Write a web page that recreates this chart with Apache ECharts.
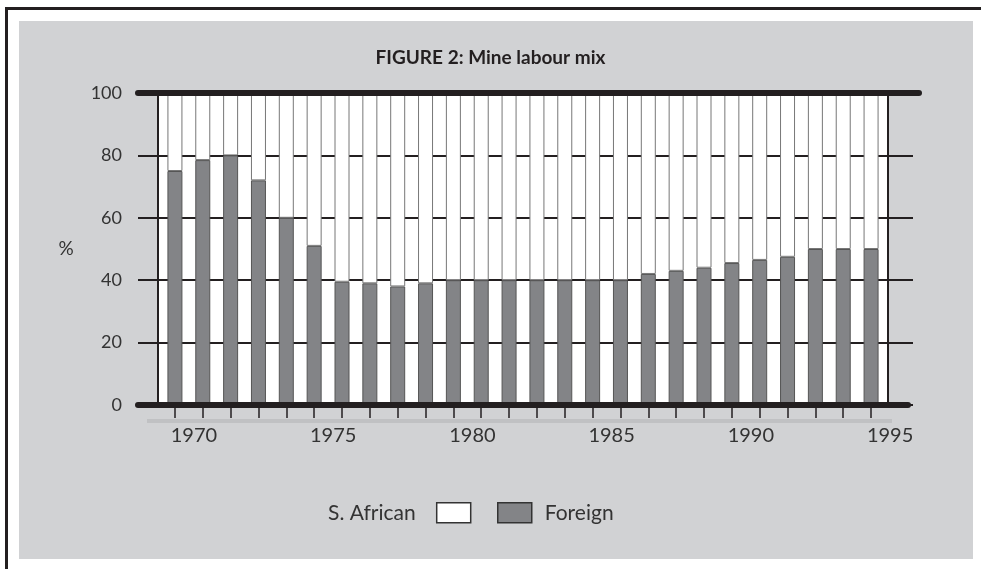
<!DOCTYPE html>
<html>
<head>
<meta charset="utf-8">
<title>Mine labour mix</title>
<script src="https://cdn.jsdelivr.net/npm/echarts@6/dist/echarts.min.js"></script>
<style>
  html, body { margin: 0; padding: 0; background: #fff; }
  .frame { position: absolute; left: 5px; top: 7px; width: 976px; height: 562px;
           border-left: 3px solid #231f20; border-top: 3px solid #231f20; }
  .panel { position: absolute; left: 19px; top: 21px; width: 954px; height: 538px; background: #d1d2d4; }
  .strip { position: absolute; left: 147px; top: 419px; width: 745px; height: 4px; background: #c0c1c3; }
  #main { position: absolute; left: 0; top: 0; width: 981px; height: 569px; }
</style>
</head>
<body>
<div class="frame"></div>
<div class="panel"></div>
<div class="strip"></div>
<div id="main"></div>
<script>
  const years = ['1970', '1971', '1972', '1973', '1974', '1975', '1976', '1977', '1978', '1979',
    '1980', '1981', '1982', '1983', '1984', '1985', '1986', '1987', '1988', '1989',
    '1990', '1991', '1992', '1993', '1994', '1995']
  // share of mine labour, %
  const foreign = [75, 78.5, 80, 72, 60, 51, 39.5, 39, 38, 39, 40, 40, 40, 40, 40, 40, 40,
    42, 43, 44, 45.5, 46.5, 47.5, 50, 50, 50]
  const sAfrican = [25, 21.5, 20, 28, 40, 49, 60.5, 61, 62, 61, 60, 60, 60, 60, 60, 60, 60,
    58, 57, 56, 54.5, 53.5, 52.5, 50, 50, 50]
  const yTicks = [0, 20, 40, 60, 80, 100]

  const ink = '#231f20'
  const font = 'Lato, "Open Sans", sans-serif'
  const myChart = echarts.init(document.getElementById('main'))

  const hiddenX = (gridIndex, position) => ({
    type: 'value', gridIndex: gridIndex, position: position, min: 0, max: 1,
    axisLabel: { show: false }, axisTick: { show: false }, splitLine: { show: false },
    axisLine: { show: false },
  })
  const hiddenY = (gridIndex) => ({
    type: 'value', gridIndex: gridIndex, min: 0, max: 100, show: false,
  })

  const option = {
    animation: false,
    backgroundColor: 'transparent',
    textStyle: { fontFamily: font },
    title: {
      text: 'FIGURE 2: Mine labour mix',
      left: 'center',
      top: 43,
      textStyle: { fontFamily: font, fontSize: 19, fontWeight: 'bold', color: ink },
    },
    legend: [
      {
        data: ['S. African'], left: 323, top: 497, align: 'right', icon: 'rect',
        itemWidth: 34, itemHeight: 20, selectedMode: false,
        itemStyle: { borderColor: '#333', borderWidth: 1.5 },
        textStyle: { fontSize: 21, color: '#333', padding: [0, 16, 0, 0] },
      },
      {
        data: ['Foreign'], left: 492, top: 497, align: 'left', icon: 'rect',
        itemWidth: 34, itemHeight: 20, selectedMode: false,
        itemStyle: { borderColor: '#333', borderWidth: 1.5 },
        textStyle: { fontSize: 21, color: '#333', padding: [0, 0, 0, 8] },
      },
    ],
    grid: [
      // white plot area with gridlines
      { left: 158, right: 93, top: 93, bottom: 164, show: true, backgroundColor: '#fff', borderWidth: 0 },
      // bars
      { left: 161, right: 96, top: 93, bottom: 164 },
      // thick 100 line
      { left: 138, right: 62, top: 93, bottom: 164 },
      // thick 0 line
      { left: 138, right: 73, top: 93, bottom: 164 },
    ],
    xAxis: [
      hiddenX(0, 'bottom'),
      {
        type: 'category', gridIndex: 1, data: years,
        axisLine: { show: false },
        axisTick: { show: true, alignWithLabel: true, interval: 0, length: 13, lineStyle: { color: ink, width: 1.5 } },
        axisLabel: {
          interval: (idx) => idx % 5 === 0,
          margin: 21, fontSize: 20, color: '#333', padding: [0, 0, 0, 38],
        },
      },
      Object.assign(hiddenX(2, 'top'), { z: 10, axisLine: { show: true, onZero: false, lineStyle: { color: ink, width: 6 } } }),
      Object.assign(hiddenX(3, 'bottom'), { z: 10, axisLine: { show: true, onZero: false, lineStyle: { color: ink, width: 6 } } }),
    ],
    yAxis: [
      {
        type: 'value', gridIndex: 0, min: 0, max: 100, interval: 20,
        name: '%', nameLocation: 'middle', nameRotate: 0, nameGap: 92,
        nameTextStyle: { fontSize: 19, color: '#333', align: 'center', verticalAlign: 'middle', padding: [0, 0, 26, 0] },
        axisLine: { show: true, lineStyle: { color: ink, width: 2 } },
        axisTick: { show: true, length: 20, lineStyle: { color: ink, width: 2 } },
        axisLabel: {
          margin: 36, fontSize: 18, color: '#333', padding: [8, 0, 0, 0],
          customValues: yTicks,
        },
        splitLine: { show: true, lineStyle: { color: ink, width: 2 } },
      },
      {
        type: 'value', gridIndex: 0, position: 'right', min: 0, max: 100, interval: 20,
        axisLine: { show: true, lineStyle: { color: ink, width: 2 } },
        axisTick: { show: true, length: 25, lineStyle: { color: ink, width: 2 } },
        axisLabel: { show: false },
        splitLine: { show: false },
      },
      hiddenY(1),
      hiddenY(2),
      hiddenY(3),
    ],
    series: [
      {
        name: 'Foreign', type: 'bar', stack: 'mix', xAxisIndex: 1, yAxisIndex: 2,
        barWidth: 15, z: 3,
        itemStyle: { color: '#838487', borderColor: '#555', borderWidth: 1 },
        data: foreign,
      },
      {
        name: 'S. African', type: 'bar', stack: 'mix', xAxisIndex: 1, yAxisIndex: 2,
        barWidth: 15, z: 3,
        itemStyle: { color: '#fff', borderColor: '#777', borderWidth: 1 },
        data: sAfrican,
      },
    ],
  }
  option && myChart.setOption(option)
</script>
</body>
</html>
